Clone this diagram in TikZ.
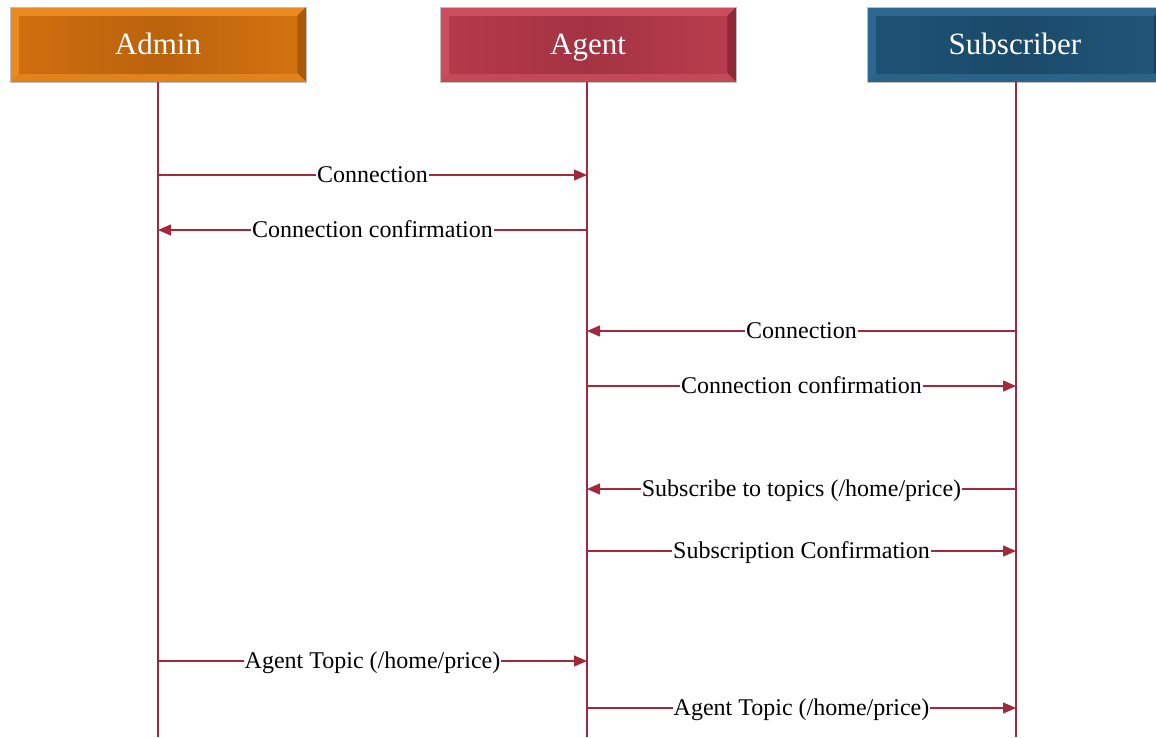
\documentclass[tikz,border=0pt]{standalone}
\usepackage{fontspec}
\setmainfont{Liberation Serif}
\usetikzlibrary{calc,arrows.meta}
\definecolor{linec}{HTML}{A3283C}
\definecolor{orbase}{HTML}{CF6E0E}
\definecolor{orlight}{HTML}{EB8A20}
\definecolor{ordark}{HTML}{A85A0A}
\definecolor{rdbase}{HTML}{B5394A}
\definecolor{rdlight}{HTML}{CC4E5E}
\definecolor{rddark}{HTML}{8E2A38}
\definecolor{blbase}{HTML}{1E5275}
\definecolor{bllight}{HTML}{2E6890}
\definecolor{bldark}{HTML}{153E5A}
\tikzset{
  hdr/.style={draw=gray!50, line width=0.6pt, minimum width=296pt, minimum height=75pt, inner sep=0pt, outer sep=0pt},
  hdrtext/.style={text=white, font=\fontsize{31}{36}\selectfont, text height=24pt, text depth=4pt, inner sep=0pt},
  life/.style={draw=linec, line width=1.3pt},
  msg/.style={draw=linec, line width=1.3pt, -{Triangle[length=13pt,width=11pt]}},
  lbl/.style={fill=white, inner sep=1pt, text=black, font=\fontsize{24}{28}\selectfont, text height=18.5pt, text depth=3.5pt},
}
\newcommand{\bevelbox}[5]{%
  % #1 name, #2 base, #3 light, #4 dark, #5 text
  \fill[#4] (#1.north east) -- (#1.south east) -- ($(#1.south east)+(-9,9)$) -- ($(#1.north east)+(-9,-9)$) -- cycle;
  \fill[#3!85!#4] (#1.south west) -- (#1.south east) -- ($(#1.south east)+(-9,9)$) -- ($(#1.south west)+(9,9)$) -- cycle;
  \shade[left color=#2, right color=#2!85!#3, middle color=#2!90!black] ($(#1.north west)+(9,-9)$) rectangle ($(#1.south east)+(-9,9)$);
  \draw[gray!50, line width=0.6pt] (#1.north west) rectangle (#1.south east);
  \node[hdrtext] at (#1) {#5};
}
\begin{document}
\begin{tikzpicture}[x=1pt,y=1pt]
\useasboundingbox (0,0) rectangle (1156,-737);
% header boxes
\node[hdr, fill=orlight] (admin) at (158,-44.5) {};
\node[hdr, fill=rdlight] (agent) at (588,-44.5) {};
\node[hdr, fill=bllight] (subs) at (1015,-44.5) {};
\bevelbox{admin}{orbase}{orlight}{ordark}{Admin}
\bevelbox{agent}{rdbase}{rdlight}{rddark}{Agent}
\bevelbox{subs}{blbase}{bllight}{bldark}{Subscriber}
% lifeline ends
\coordinate (adminEnd) at (158,-737);
\coordinate (agentEnd) at (587,-737);
\coordinate (subsEnd) at (1016,-737);
\draw[life] (158,-82) -- (adminEnd);
\draw[life] (587,-82) -- (agentEnd);
\draw[life] (1016,-82) -- (subsEnd);
% message points
\foreach \n/\y in {1/175,2/230,3/331,4/386,5/489,6/551,7/661,8/708}{
  \coordinate (ad\n) at (158,-\y);
  \coordinate (ag\n) at (587,-\y);
  \coordinate (su\n) at (1016,-\y);
}
\draw[msg] (ad1) -- node[lbl] (m1) {Connection} (ag1);
\draw[msg] (ag2) -- node[lbl] (m2) {Connection confirmation} (ad2);
\draw[msg] (su3) -- node[lbl] (m3) {Connection} (ag3);
\draw[msg] (ag4) -- node[lbl] (m4) {Connection confirmation} (su4);
\draw[msg] (su5) -- node[lbl] (m5) {Subscribe to topics (/home/price)} (ag5);
\draw[msg] (ag6) -- node[lbl] (m6) {Subscription Confirmation} (su6);
\draw[msg] (ad7) -- node[lbl] (m7) {Agent Topic (/home/price)} (ag7);
\draw[msg] (ag8) -- node[lbl] (m8) {Agent Topic (/home/price)} (su8);
\end{tikzpicture}
\end{document}
